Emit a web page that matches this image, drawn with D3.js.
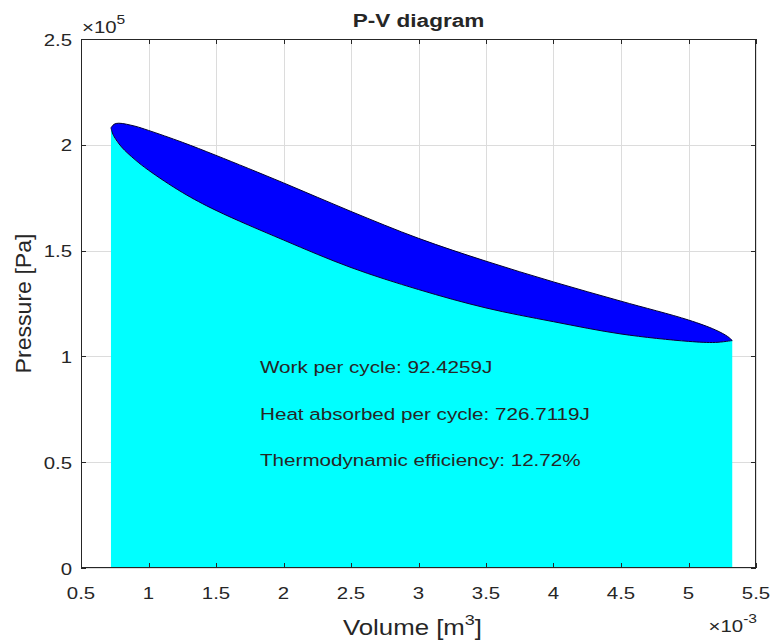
<!DOCTYPE html>
<html>
<head>
<meta charset="utf-8">
<script src="https://cdn.jsdelivr.net/npm/d3@7"></script>
<style>
  html, body { margin: 0; padding: 0; background: #fff; }
  svg { display: block; }
  text { font-family: "Liberation Sans", Arial, Helvetica, sans-serif; fill: #262626; }
</style>
</head>
<body>
<svg id="chart" width="770" height="641"></svg>
<script>
// ---- data (V in 1e-3 m^3, P in 1e5 Pa) ----
const xTicks = [0.5, 1, 1.5, 2, 2.5, 3, 3.5, 4, 4.5, 5, 5.5];
const xTickLabels = ["0.5", "1", "1.5", "2", "2.5", "3", "3.5", "4", "4.5", "5", "5.5"];
const yTicks = [0, 0.5, 1, 1.5, 2, 2.5];
const yTickLabels = ["0", "0.5", "1", "1.5", "2", "2.5"];

// upper (expansion) branch, left -> right
const volumeUpper   = [0.722, 0.745, 0.78, 0.9, 1.0, 1.25, 1.5, 2.0, 2.5, 3.0, 3.5, 4.0, 4.5, 5.0, 5.2, 5.29, 5.324];
const pressureUpper = [2.080, 2.097, 2.102, 2.088, 2.068, 2.012, 1.950, 1.820, 1.685, 1.558, 1.450, 1.352, 1.261, 1.172, 1.125, 1.094, 1.075];
// lower (compression) branch, left -> right
const volumeLower   = [0.722, 0.74, 0.8, 0.9, 1.0, 1.25, 1.5, 2.0, 2.5, 3.0, 3.5, 4.0, 4.5, 5.0, 5.2, 5.324];
const pressureLower = [2.080, 2.045, 1.990, 1.930, 1.880, 1.775, 1.690, 1.550, 1.420, 1.316, 1.229, 1.164, 1.106, 1.071, 1.066, 1.075];

const titleText = "P-V diagram";
const xLabelText = "Volume [m";
const yLabelText = "Pressure [Pa]";
const annotations = ["Work per cycle: 92.4259J", "Heat absorbed per cycle: 726.7119J", "Thermodynamic efficiency: 12.72%"];
const annotationPos = [[1.826, 0.920], [1.826, 0.699], [1.826, 0.480]];

// ---- layout ----
const L = 81, R = 756, T = 39, B = 568;
const SX = 1.2; // horizontal stretch of text in the reference
const ink = "#262626";

const svg = d3.select("#chart");
const x = d3.scaleLinear().domain([0.5, 5.5]).range([L, R]);
const y = d3.scaleLinear().domain([0, 2.5]).range([B, T]);

function stext(g, px, py, str, opts = {}) {
  return g.append("text")
    .attr("transform", `translate(${px},${py}) scale(${opts.sx || SX},1)`)
    .attr("font-size", opts.size || 17)
    .attr("text-anchor", opts.anchor || "start")
    .attr("font-weight", opts.weight || "normal")
    .text(str);
}

svg.append("rect").attr("x", L).attr("y", T).attr("width", R - L).attr("height", B - T).attr("fill", "#fff");

// grid
const grid = svg.append("g").attr("stroke", "#dcdcdc").attr("stroke-width", 1);
xTicks.forEach(v => grid.append("line").attr("x1", Math.round(x(v)) + 0.5).attr("x2", Math.round(x(v)) + 0.5).attr("y1", T).attr("y2", B));
yTicks.forEach(v => grid.append("line").attr("y1", Math.round(y(v)) + 0.5).attr("y2", Math.round(y(v)) + 0.5).attr("x1", L).attr("x2", R));

const lowerPts = volumeLower.map((v, i) => [v, pressureLower[i]]);
const upperPts = volumeUpper.map((v, i) => [v, pressureUpper[i]]);

// cyan area under the lower branch
const area = d3.area()
  .x(d => x(d[0])).y0(y(0)).y1(d => y(d[1]))
  .curve(d3.curveMonotoneX);
svg.append("path").datum(lowerPts).attr("d", area).attr("fill", "#00ffff").attr("stroke", "none");

// blue cycle
const lineGen = d3.line().x(d => x(d[0])).y(d => y(d[1])).curve(d3.curveCatmullRom.alpha(0.5));
const upperPath = lineGen(upperPts);
const lowerPath = lineGen(lowerPts.slice().reverse());
const cyclePath = upperPath + "L" + lowerPath.slice(1) + "Z";
svg.append("path").attr("d", cyclePath).attr("fill", "#0000ff").attr("stroke", "#000033").attr("stroke-width", 1);

// annotations
const ann = svg.append("g");
annotations.forEach((s, i) => stext(ann, x(annotationPos[i][0]), y(annotationPos[i][1]), s, { size: 17.2 }));

// axes box
const axG = svg.append("g").attr("stroke", ink).attr("stroke-width", 1).attr("fill", "none");
axG.append("rect").attr("x", L + 0.5).attr("y", T + 0.5).attr("width", R - L - 1).attr("height", B - T - 1);

const TL = 5;
xTicks.forEach(v => {
  const px = Math.round(x(v)) + 0.5;
  axG.append("line").attr("x1", px).attr("x2", px).attr("y1", B).attr("y2", B - TL);
  axG.append("line").attr("x1", px).attr("x2", px).attr("y1", T).attr("y2", T + TL);
});
yTicks.forEach(v => {
  const py = Math.round(y(v)) + 0.5;
  axG.append("line").attr("y1", py).attr("y2", py).attr("x1", L).attr("x2", L + TL);
  axG.append("line").attr("y1", py).attr("y2", py).attr("x1", R).attr("x2", R - TL);
});

// tick labels
const tl = svg.append("g");
xTicks.forEach((v, i) => stext(tl, x(v), B + 31, xTickLabels[i], { anchor: "middle" }));
yTicks.forEach((v, i) => stext(tl, L - 9, y(v) + 6.5, yTickLabels[i], { anchor: "end" }));

// exponent labels
const ex = svg.append("g");
const ey = ex.append("text").attr("transform", `translate(${L + 1},${T - 6}) scale(${SX},1)`).attr("font-size", 17);
ey.append("tspan").text("×10");
ey.append("tspan").attr("font-size", 13).attr("dy", -9).text("5");

const exx = ex.append("text").attr("transform", `translate(${R + 1},${B + 64}) scale(${SX},1)`).attr("font-size", 17).attr("text-anchor", "end");
exx.append("tspan").text("×10");
exx.append("tspan").attr("font-size", 13).attr("dy", -9).text("-3");

// title
stext(svg, (L + R) / 2, 27, titleText, { anchor: "middle", weight: "bold", size: 18.8 });

// x label
const xl = svg.append("text").attr("transform", `translate(${(L + R) / 2 - 6},${B + 67}) scale(${SX},1)`)
  .attr("font-size", 21.5).attr("text-anchor", "middle");
xl.append("tspan").text(xLabelText);
xl.append("tspan").attr("font-size", 15).attr("dy", -10).text("3");
xl.append("tspan").attr("dy", 10).text("]");

// y label (rotated)
svg.append("text").attr("transform", `translate(31,${(T + B) / 2}) rotate(-90) scale(1.1,1.05)`)
  .attr("font-size", 21).attr("text-anchor", "middle").text(yLabelText);
</script>
</body>
</html>
